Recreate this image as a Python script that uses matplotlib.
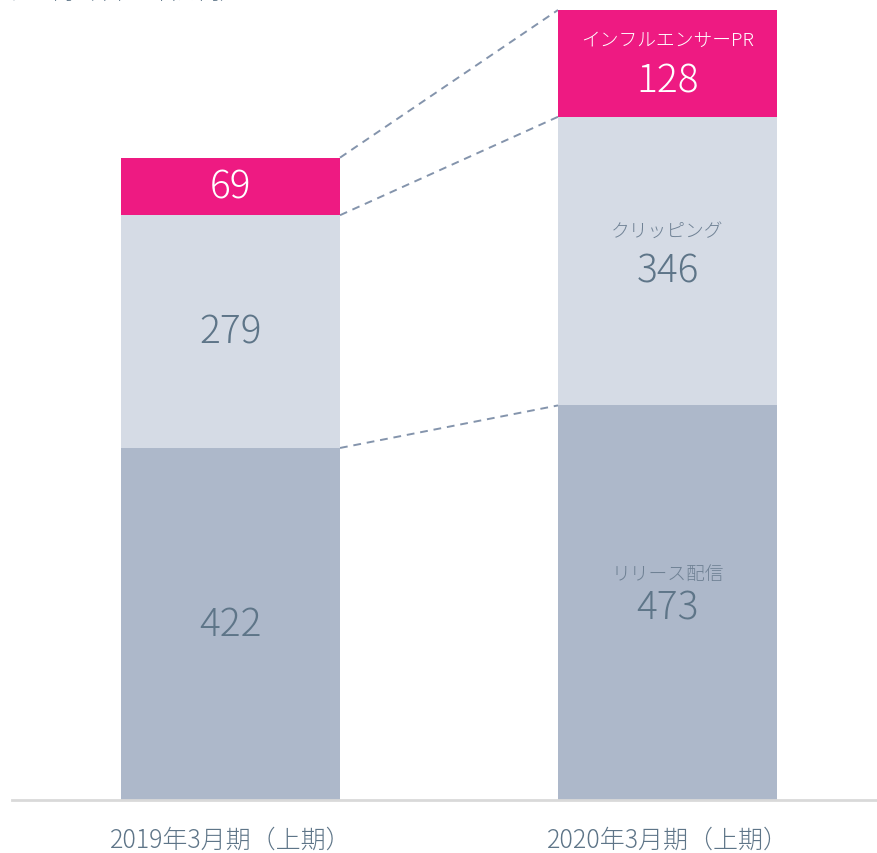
import matplotlib
matplotlib.use("Agg")
import matplotlib.pyplot as plt
import numpy as np

plt.rcParams['font.family'] = ['Noto Sans CJK JP', 'DejaVu Sans']

categories = ["2019年3月期（上期）", "2020年3月期（上期）"]
series_names = ["リリース配信", "クリッピング", "インフルエンサーPR"]
release = [422, 473]
clipping = [279, 346]
influencer = [69, 128]
title_text = "売上高（単位：百万円）"

colors = ["#ADB8CA", "#D5DBE5", "#EE1A82"]
text_colors = ["#5E7588", "#5E7588", "#FFFFFF"]

W, H = 877, 854
fig = plt.figure(figsize=(W / 100, H / 100), dpi=100)
# axes: from x=12px to right edge, from baseline (800px from top) to top
ax = fig.add_axes([12 / W, 53 / H, 1 - 12 / W, 801 / H])
px_per_unit = 790 / 947.0
ax.set_ylim(0, 801 / px_per_unit)
ax.set_xlim(-0.5, 1 + (877 - 667.5) / 437)

x = np.arange(len(categories))
width = 219 / 437
series = [release, clipping, influencer]
bottoms = np.zeros(len(categories))
bounds = []
for vals, c in zip(series, colors):
    ax.bar(x, vals, width, bottom=bottoms, color=c, linewidth=0, zorder=2)
    bottoms = bottoms + np.array(vals)
    bounds.append(bottoms.copy())

# connector dashed lines
for b in bounds:
    ax.plot([x[0] + width / 2, x[1] - width / 2], [b[0], b[1]],
            linestyle=(0, (4, 3)), color="#8494AC", linewidth=1.4, zorder=1)

# labels
bottoms = np.zeros(len(categories))
name_off = [-29, -30, -23]
num_off = [5, 10, 17]
for si, (vals, tc) in enumerate(zip(series, text_colors)):
    for i, v in enumerate(vals):
        center = bottoms[i] + v / 2
        if i == 0:
            ax.annotate(str(v), (x[i], center), xytext=(0, 0), textcoords="offset pixels",
                        ha="center", va="center", fontsize=28, color=tc, fontweight="light")
        else:
            ax.annotate(series_names[si], (x[i], center), xytext=(0, -name_off[si]),
                        textcoords="offset pixels", ha="center", va="center",
                        fontsize=13.5, color=tc if si == 2 else "#6F8194", fontweight="light")
            ax.annotate(str(v), (x[i], center), xytext=(0, -num_off[si]),
                        textcoords="offset pixels", ha="center", va="center",
                        fontsize=28, color=tc, fontweight="light")
    bottoms = bottoms + np.array(vals)

ax.set_xticks(x)
ax.set_xticklabels(categories, fontsize=18, color="#5E7588", fontweight="light")
ax.tick_params(axis="x", length=0, pad=19)
ax.set_yticks([])
for s in ["top", "right", "left"]:
    ax.spines[s].set_visible(False)
ax.spines["bottom"].set_color("#D9D9D9")
ax.spines["bottom"].set_linewidth(2)

fig.text(12 / W, 1 - 4 / H, title_text, ha="left", va="bottom", fontsize=15,
         color="#5E7588", fontweight="light")

fig.savefig("out.png", dpi=100)
